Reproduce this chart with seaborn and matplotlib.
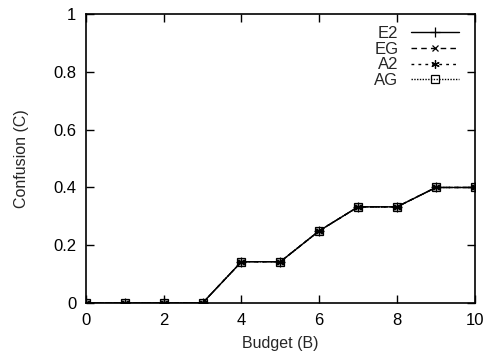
import matplotlib
matplotlib.use("Agg")
import matplotlib.pyplot as plt
import seaborn as sns
import pandas as pd

budget = [0, 1, 2, 3, 4, 5, 6, 7, 8, 9, 10]
e2 = [0, 0, 0, 0, 0.143, 0.143, 0.25, 0.333, 0.333, 0.4, 0.4]
eg = [0, 0, 0, 0, 0.143, 0.143, 0.25, 0.333, 0.333, 0.4, 0.4]
a2 = [0, 0, 0, 0, 0.143, 0.143, 0.25, 0.333, 0.333, 0.4, 0.4]
ag = [0, 0, 0, 0, 0.143, 0.143, 0.25, 0.333, 0.333, 0.4, 0.4]
series_names = ["E2", "EG", "A2", "AG"]
xticks = [0, 2, 4, 6, 8, 10]
yticks = [0, 0.2, 0.4, 0.6, 0.8, 1]
ytick_labels = ["0", "0.2", "0.4", "0.6", "0.8", "1"]

sns.set_theme(style="ticks")
plt.rcParams["font.family"] = ["Liberation Sans", "DejaVu Sans"]

fig = plt.figure(figsize=(4.88, 3.54), dpi=100)
ax = fig.add_axes([0.176, 0.144, 0.797, 0.816])

styles = {
    "E2": dict(ls="-", marker="+", ms=7),
    "EG": dict(ls=(0, (4, 3)), marker="x", ms=5),
    "A2": dict(ls=(0, (2, 3)), marker=(6, 2, 0), ms=6),
    "AG": dict(ls=(0, (1, 1)), marker="s", ms=5.5),
}
for name, vals in zip(series_names, [e2, eg, a2, ag]):
    df = pd.DataFrame({"Budget": budget, "Confusion": vals})
    st = styles[name]
    sns.lineplot(data=df, x="Budget", y="Confusion", ax=ax, color="black",
                 linewidth=1.0, linestyle=st["ls"], marker=st["marker"],
                 markersize=st["ms"], markerfacecolor="none",
                 markeredgecolor="black", markeredgewidth=0.9, label=name)

ax.set_xlim(0, 10)
ax.set_ylim(0, 1)
ax.set_xticks(xticks)
ax.set_xticklabels([str(t) for t in xticks])
ax.set_yticks(yticks)
ax.set_yticklabels(ytick_labels)
ax.tick_params(direction="in", top=True, right=True, length=6, width=1,
               labelsize=12, colors="black", pad=7)
for sp in ax.spines.values():
    sp.set_visible(True)
    sp.set_linewidth(1.2)
    sp.set_color("black")
ax.set_xlabel("Budget (B)", fontsize=11.5, labelpad=6)
ax.set_ylabel("Confusion (C)", fontsize=11.5, labelpad=17)

leg = ax.legend(loc="upper right", markerfirst=False, frameon=False,
                fontsize=12, handlelength=2.9, borderaxespad=0.3,
                labelspacing=0.05, handletextpad=0.75,
                bbox_to_anchor=(0.99, 1.0))
for t in leg.get_texts():
    t.set_ha("right")
    t.set_multialignment("right")
leg._legend_box.align = "right"

fig.savefig("out.png", dpi=100)
